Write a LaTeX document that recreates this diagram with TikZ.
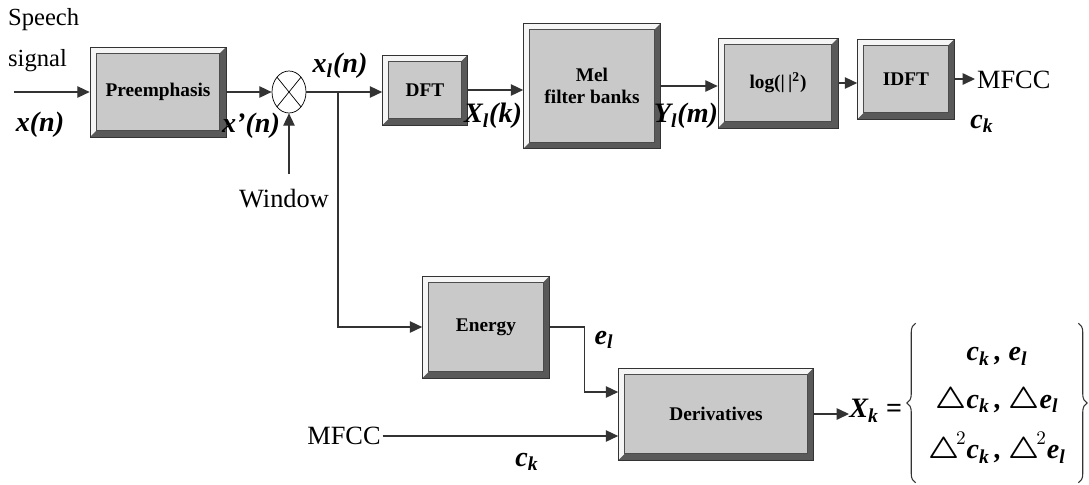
\documentclass[tikz,border=0pt]{standalone}
\usepackage{amsmath}
\usepackage{fontspec}
\setmainfont{Liberation Serif}
\usetikzlibrary{arrows.meta,shapes.geometric,calc,decorations.pathreplacing}
\def\pbb{path picture bounding box}
\newcommand\lbfont{\fontsize{16}{19}\selectfont\bfseries\itshape}
\tikzset{
  blk/.style={draw=black!80, fill=gray!55, align=center, inner sep=0pt,
    font=\fontsize{11}{12.5}\selectfont\bfseries,
    path picture={
      \fill[gray!8] (\pbb.north west) -- (\pbb.north east) -- ([shift={(-3.5pt,-3.5pt)}]\pbb.north east)
        -- ([shift={(3.5pt,-3.5pt)}]\pbb.north west) -- ([shift={(3.5pt,3.5pt)}]\pbb.south west)
        -- (\pbb.south west) -- cycle;
      \fill[gray!70!black] (\pbb.south east) -- (\pbb.north east) -- ([shift={(-3.5pt,-3.5pt)}]\pbb.north east)
        -- ([shift={(-3.5pt,3.5pt)}]\pbb.south east) -- ([shift={(3.5pt,3.5pt)}]\pbb.south west)
        -- (\pbb.south west) -- cycle;
      \draw[black!70, fill=gray!42] ([shift={(3.5pt,-3.5pt)}]\pbb.north west) rectangle ([shift={(-3.5pt,3.5pt)}]\pbb.south east);
    }},
  mult/.style={draw, ellipse, minimum width=0.68cm, minimum height=0.84cm, inner sep=0pt,
    path picture={\draw (\pbb.north west) -- (\pbb.south east) (\pbb.north east) -- (\pbb.south west);}},
  lab/.style={font=\lbfont, inner sep=1pt},
  txt/.style={font=\fontsize{15}{17}\selectfont, inner sep=1pt},
  arr/.style={draw=black!80, line width=0.7pt, -{Triangle[length=7pt,width=6.5pt]}},
  curly/.style={draw=black!80, line width=0.6pt, decorate, decoration={brace, amplitude=5pt}}
}
\begin{document}
\begin{tikzpicture}[x=0.02cm, y=-0.02cm]
\useasboundingbox (0,0) rectangle (1089,484);
% Top row: framing, spectrum, cepstrum
\node[txt, align=left, anchor=west, font=\fontsize{14}{23}\selectfont] (sp) at (6,40) {Speech\\signal};
\coordinate (in) at (14,92);
\node[blk, minimum width=2.72cm, minimum height=1.8cm] (pre) at (158,92) {Preemphasis};
\node[mult] (mul) at (289,92) {};
\node[blk, minimum width=1.7cm, minimum height=1.4cm] (dft) at (425,90) {DFT};
\node[blk, minimum width=2.74cm, minimum height=2.5cm] (mel) at (592,86) {Mel\\filter banks};
\node[blk, minimum width=2.4cm, minimum height=1.8cm] (logb) at (778,83) {log(|\,|\textsuperscript{2})};
\node[blk, minimum width=1.94cm, minimum height=1.6cm] (idft) at (906,79) {IDFT};
\node[txt, anchor=west] (mfcc) at (975,80) {MFCC};
\node[txt] (win) at (284,199) {Window};
\coordinate (wt) at (289,174);
\coordinate (br) at (338,92);
\draw[arr] (in) -- (in -| pre.west);
\draw[arr] (pre.east) -- (mul.west);
\draw[arr] (wt) -- (mul.south);
\draw[arr] (mul.east) -- (mul.east -| dft.west);
\draw[arr] (dft.east) -- (dft.east -| mel.west);
\draw[arr] (mel.east) -- (mel.east -| logb.west);
\draw[arr] (logb.east) -- (logb.east -| idft.west);
\draw[arr] (idft.east) -- (mfcc.west |- idft.east);
\node[lab] (xn) at (40,125) {x(n)};
\node[lab] (xpn) at (251,126) {x'(n)};
\node[lab] (xln) at (340,66) {x\textsubscript{l}(n)};
\node[lab] (xlk) at (493,116) {X\textsubscript{l}(k)};
\node[lab] (ylm) at (686,116) {Y\textsubscript{l}(m)};
\node[lab] (ck1) at (982,124) {c\textsubscript{k}};
% Bottom row: energy and derivatives
\node[blk, minimum width=2.54cm, minimum height=2.04cm] (energy) at (486,327) {Energy};
\node[blk, minimum width=3.9cm, minimum height=1.84cm] (deriv) at (716,414) {Derivatives};
\node[txt] (mfccin) at (344,436) {MFCC};
\draw[arr] (br) |- (energy.west);
\draw[arr] (energy.east) -- ++(35,0) |- ($(deriv.west)+(0,-22)$);
\draw[arr] (mfccin.east) -- (mfccin.east -| deriv.west);
\node[lab] (el) at (604,340) {e\textsubscript{l}};
\node[lab] (ck2) at (527,462) {c\textsubscript{k}};
\node[anchor=west, inner sep=0pt, font=\lbfont] (xk) at (849,411) {X\textsubscript{k} =};
\node[inner xsep=7pt, inner ysep=0pt, minimum height=3.18cm, font=\lbfont] (set) at (997,403)
  {\begin{tabular}{@{}c@{}}
   c\textsubscript{k}\,, e\textsubscript{l}\\[8pt]
   $\boldsymbol\triangle$c\textsubscript{k}\,, $\boldsymbol\triangle$e\textsubscript{l}\\[8pt]
   $\boldsymbol\triangle^{\!2}$c\textsubscript{k}\,, $\boldsymbol\triangle^{\!2}$e\textsubscript{l}
  \end{tabular}};
\draw[curly] (set.south west) -- (set.north west);
\draw[curly] (set.north east) -- (set.south east);
\draw[arr] (deriv.east) -- (deriv.east -| xk.west);
\end{tikzpicture}
\end{document}
